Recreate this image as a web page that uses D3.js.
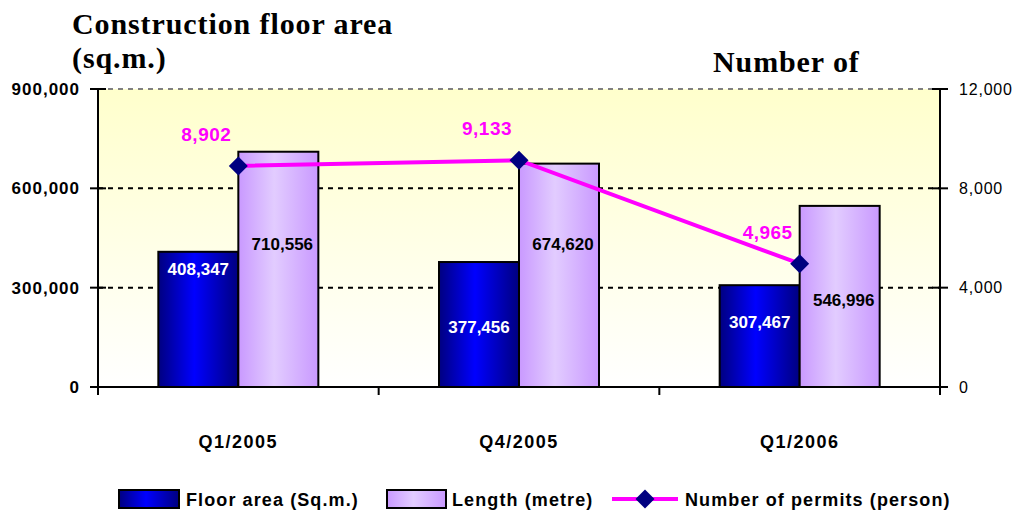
<!DOCTYPE html>
<html><head><meta charset="utf-8">
<script src="https://cdn.jsdelivr.net/npm/d3@7"></script>
<style>body{margin:0;background:#fff}svg{display:block}</style>
</head><body>
<svg id="c" width="1020" height="513"></svg>
<script>
const categories = ["Q1/2005", "Q4/2005", "Q1/2006"];
const floorArea = [408347, 377456, 307467];
const lengthMetre = [710556, 674620, 546996];
const permits = [8902, 9133, 4965];
const leftTicks = [0, 300000, 600000, 900000];
const rightTicks = [0, 4000, 8000, 12000];
const seriesNames = ["Floor area (Sq.m.)", "Length (metre)", "Number of permits (person)"];
// label nudges (pixels) mimicking the original's label placement
const floorLabelDy = [-50, 2, -14];
const lengthLabelDy = [-25, -31, 4];

const svg = d3.select("#c");
const m = {l: 98, r: 940, t: 89, b: 387};
const x = d3.scaleBand().domain(categories).range([m.l, m.r]);
const yL = d3.scaleLinear().domain([0, 900000]).range([m.b, m.t]);
const yR = d3.scaleLinear().domain([0, 12000]).range([m.b, m.t]);
const fmt = d3.format(",");
const barW = 80;
const sans = "Liberation Sans, Arial, sans-serif";

const defs = svg.append("defs");
const bg = defs.append("linearGradient").attr("id", "bg").attr("x1", 0).attr("y1", 0).attr("x2", 0).attr("y2", 1);
bg.append("stop").attr("offset", "0%").attr("stop-color", "#FFFFCC");
bg.append("stop").attr("offset", "100%").attr("stop-color", "#FFFFFF");
const g1 = defs.append("linearGradient").attr("id", "gFloor");
g1.append("stop").attr("offset", "0%").attr("stop-color", "#000080");
g1.append("stop").attr("offset", "45%").attr("stop-color", "#0000FF");
g1.append("stop").attr("offset", "100%").attr("stop-color", "#000080");
const g2 = defs.append("linearGradient").attr("id", "gLen");
g2.append("stop").attr("offset", "0%").attr("stop-color", "#C999FF");
g2.append("stop").attr("offset", "45%").attr("stop-color", "#E2CCFF");
g2.append("stop").attr("offset", "100%").attr("stop-color", "#C999FF");

// plot background
svg.append("rect").attr("x", m.l).attr("y", m.t).attr("width", m.r - m.l).attr("height", m.b - m.t).attr("fill", "url(#bg)");

// gridlines
svg.append("g").selectAll("line").data(leftTicks.filter(d => d > 0)).join("line")
  .attr("x1", m.l).attr("x2", m.r).attr("y1", d => yL(d)).attr("y2", d => yL(d))
  .attr("stroke", d => d === 900000 ? "#808080" : "#000")
  .attr("stroke-width", 2).attr("stroke-dasharray", "5,5");

// bars
const groups = svg.append("g").selectAll("g").data(categories).join("g");
groups.append("rect")
  .attr("x", d => x(d) + x.bandwidth() / 2 - barW)
  .attr("y", (d, i) => yL(floorArea[i]))
  .attr("width", barW).attr("height", (d, i) => m.b - yL(floorArea[i]))
  .attr("fill", "url(#gFloor)").attr("stroke", "#000").attr("stroke-width", 2);
groups.append("rect")
  .attr("x", d => x(d) + x.bandwidth() / 2)
  .attr("y", (d, i) => yL(lengthMetre[i]))
  .attr("width", barW).attr("height", (d, i) => m.b - yL(lengthMetre[i]))
  .attr("fill", "url(#gLen)").attr("stroke", "#000").attr("stroke-width", 2);

// bar labels
groups.append("text")
  .attr("x", d => x(d) + x.bandwidth() / 2 - barW / 2)
  .attr("y", (d, i) => (yL(floorArea[i]) + m.b) / 2 + floorLabelDy[i] + 6)
  .attr("text-anchor", "middle").attr("fill", "#fff")
  .attr("font-family", sans).attr("font-weight", "bold").attr("font-size", 17)
  .text((d, i) => fmt(floorArea[i]));
groups.append("text")
  .attr("x", d => x(d) + x.bandwidth() / 2 + barW / 2 + 4)
  .attr("y", (d, i) => (yL(lengthMetre[i]) + m.b) / 2 + lengthLabelDy[i] + 6)
  .attr("text-anchor", "middle").attr("fill", "#000")
  .attr("font-family", sans).attr("font-weight", "bold").attr("font-size", 17)
  .text((d, i) => fmt(lengthMetre[i]));

// axes lines
svg.append("line").attr("x1", m.l).attr("x2", m.r).attr("y1", m.b).attr("y2", m.b).attr("stroke", "#000").attr("stroke-width", 2);
svg.append("line").attr("x1", m.l).attr("x2", m.l).attr("y1", m.t).attr("y2", m.b + 8).attr("stroke", "#000").attr("stroke-width", 2);
svg.append("line").attr("x1", m.r).attr("x2", m.r).attr("y1", m.t).attr("y2", m.b + 8).attr("stroke", "#000").attr("stroke-width", 2);

// left ticks
const lt = svg.append("g").selectAll("g").data(leftTicks).join("g").attr("transform", d => `translate(0,${yL(d)})`);
lt.append("line").attr("x1", m.l - 8).attr("x2", m.l + 8).attr("stroke", "#000").attr("stroke-width", 2);
lt.append("text").attr("x", m.l - 18).attr("dy", "0.35em").attr("text-anchor", "end")
  .attr("font-family", sans).attr("font-weight", "bold").attr("font-size", 17).attr("letter-spacing", 1)
  .text(d => fmt(d));
// right ticks
const rt = svg.append("g").selectAll("g").data(rightTicks).join("g").attr("transform", d => `translate(0,${yR(d)})`);
rt.append("line").attr("x1", m.r - 8).attr("x2", m.r + 8).attr("stroke", "#000").attr("stroke-width", 2);
rt.append("text").attr("x", m.r + 19).attr("dy", "0.35em").attr("text-anchor", "start")
  .attr("font-family", sans).attr("font-size", 16).attr("letter-spacing", 0.8)
  .text(d => fmt(d));
// category ticks
const catEdges = categories.map(d => x(d)).concat([m.r]);
svg.append("g").selectAll("line").data(catEdges).join("line")
  .attr("x1", d => d).attr("x2", d => d).attr("y1", m.b).attr("y2", m.b + 8)
  .attr("stroke", "#000").attr("stroke-width", 2);
svg.append("g").selectAll("text").data(categories).join("text")
  .attr("x", d => x(d) + x.bandwidth() / 2).attr("y", 448).attr("text-anchor", "middle")
  .attr("font-family", sans).attr("font-weight", "bold").attr("font-size", 18).attr("letter-spacing", 1.5)
  .text(d => d);

// line series
const line = d3.line().x((d, i) => x(categories[i]) + x.bandwidth() / 2).y(d => yR(d));
svg.append("path").datum(permits).attr("d", line).attr("fill", "none").attr("stroke", "#FF00FF").attr("stroke-width", 4);
svg.append("g").selectAll("path").data(permits).join("path")
  .attr("transform", (d, i) => `translate(${x(categories[i]) + x.bandwidth() / 2},${yR(d)}) rotate(45)`)
  .attr("d", d3.symbol().type(d3.symbolSquare).size(180)).attr("fill", "#000080");
svg.append("g").selectAll("text").data(permits).join("text")
  .attr("x", (d, i) => x(categories[i]) + x.bandwidth() / 2 - 32)
  .attr("y", d => yR(d) - 25).attr("text-anchor", "middle")
  .attr("fill", "#FF00FF").attr("font-family", sans).attr("font-weight", "bold").attr("font-size", 19).attr("letter-spacing", 0.5)
  .text(d => fmt(d));

// titles
const serif = "Liberation Serif, Times New Roman, serif";
svg.append("text").attr("x", 72).attr("y", 34).attr("font-family", serif).attr("font-weight", "bold").attr("font-size", 30).attr("letter-spacing", 0.9).text("Construction floor area");
svg.append("text").attr("x", 72).attr("y", 68).attr("font-family", serif).attr("font-weight", "bold").attr("font-size", 30).attr("letter-spacing", 0.9).text("(sq.m.)");
svg.append("text").attr("x", 713).attr("y", 72).attr("font-family", serif).attr("font-weight", "bold").attr("font-size", 30).attr("letter-spacing", 0.9).text("Number of");

// legend
const lg = svg.append("g").attr("font-family", sans).attr("font-weight", "bold").attr("font-size", 18).attr("letter-spacing", 1.1);
lg.append("rect").attr("x", 119).attr("y", 490).attr("width", 60).attr("height", 18).attr("fill", "url(#gFloor)").attr("stroke", "#000").attr("stroke-width", 2);
lg.append("text").attr("x", 186).attr("y", 506).text(seriesNames[0]);
lg.append("rect").attr("x", 387).attr("y", 490).attr("width", 59).attr("height", 18).attr("fill", "url(#gLen)").attr("stroke", "#000").attr("stroke-width", 2);
lg.append("text").attr("x", 452).attr("y", 506).text(seriesNames[1]);
lg.append("line").attr("x1", 612).attr("x2", 678).attr("y1", 499).attr("y2", 499).attr("stroke", "#FF00FF").attr("stroke-width", 4);
lg.append("path").attr("transform", "translate(645,499) rotate(45)").attr("d", d3.symbol().type(d3.symbolSquare).size(180)).attr("fill", "#000080");
lg.append("text").attr("x", 685).attr("y", 506).text(seriesNames[2]);
</script>
</body></html>
